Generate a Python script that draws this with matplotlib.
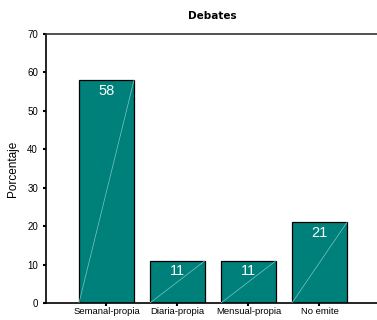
import matplotlib
matplotlib.use("Agg")
import matplotlib.pyplot as plt
import numpy as np

plt.rcParams['font.family'] = ['Liberation Sans', 'DejaVu Sans']

categories = ["Semanal-propia", "Diaria-propia", "Mensual-propia", "No emite"]
values = [58, 11, 11, 21]
yticks = [0, 10, 20, 30, 40, 50, 60, 70]

bar_color = "#00807A"
diag_color = "#7cc7c2"

fig = plt.figure(figsize=(3.77, 3.2), dpi=100)
ax = fig.add_axes([45.7 / 377, 17 / 320, 1 - 45.7 / 377, 269 / 320])

x = np.arange(len(categories))
width = 0.775
bars = ax.bar(x, values, width=width, color=bar_color, edgecolor="black",
              linewidth=0.9, zorder=2)

# thin diagonal from the lower-left to the upper-right corner of each bar
for rect in bars:
    x0 = rect.get_x()
    x1 = x0 + rect.get_width()
    ax.plot([x0, x1], [0, rect.get_height()], color=diag_color, lw=0.5,
            zorder=3, solid_capstyle="butt")

for xi, v in zip(x, values):
    ax.annotate(f"{v}", xy=(xi, v), xytext=(0, -2.5), textcoords="offset points",
                ha="center", va="top", color="white", fontsize=10.5, zorder=4)

ax.set_xlim(-0.856, 3.81)
ax.set_ylim(0, 70)
ax.set_yticks(yticks)
ax.set_xticks(x)
ax.set_xticklabels(categories, fontsize=6.8)
ax.tick_params(axis="y", labelsize=7, length=2.5, width=1.5, pad=3)
ax.tick_params(axis="x", length=2.0, width=1.5, pad=1.0)

ax.spines["right"].set_visible(False)
for s in ("left", "bottom", "top"):
    ax.spines[s].set_linewidth(1.2)
    ax.spines[s].set_color("black")
ax.spines["top"].set_color("#333333")

ax.set_ylabel("Porcentaje", fontsize=8.5, labelpad=6)
fig.text(212 / 377, 1 - 16 / 320, "Debates", ha="center", va="center",
         fontsize=7.5, fontweight="heavy", family="DejaVu Sans")

fig.savefig("out.png", dpi=100)
